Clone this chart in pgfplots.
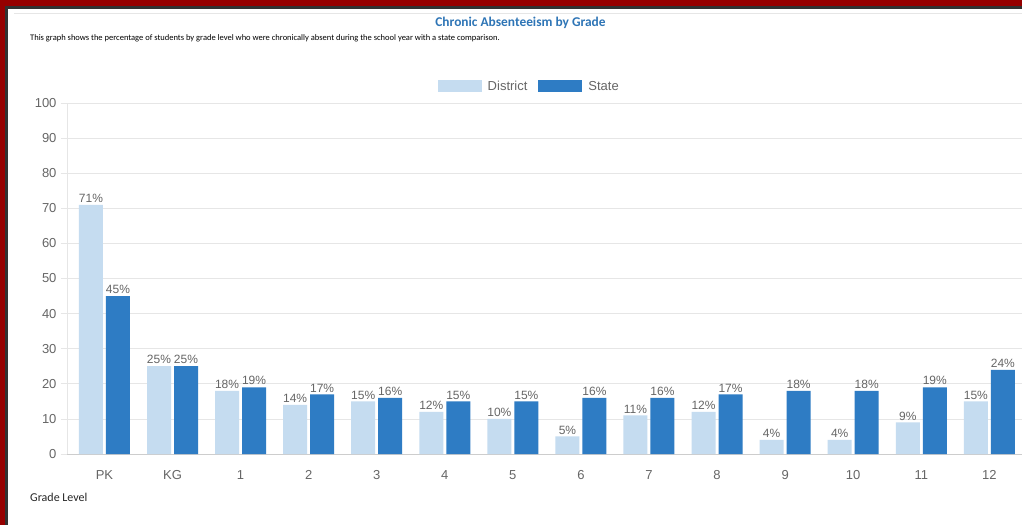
\documentclass[border=0pt]{standalone}
\usepackage{pgfplots}
\pgfplotsset{compat=1.18}
\usepackage{fontspec}
\setmainfont{Liberation Sans}
\newfontfamily\calibri{Carlito}
\definecolor{frame}{RGB}{150,0,0}
\definecolor{framedark}{RGB}{50,50,50}
\definecolor{districtc}{RGB}{197,220,240}
\definecolor{statec}{RGB}{46,124,196}
\definecolor{titleblue}{RGB}{46,117,182}
\definecolor{gridc}{RGB}{230,230,230}
\definecolor{axisc}{RGB}{205,205,205}
\definecolor{txt}{RGB}{102,102,102}
\begin{document}
\begin{tikzpicture}[x=1pt,y=1pt]
\useasboundingbox (0,0) rectangle (1022,525);
\fill[white] (0,0) rectangle (1022,525);
\fill[frame] (0,0) rectangle (5,525);
\fill[frame] (0,519) rectangle (1022,525);
\fill[framedark] (5,0) rectangle (8,519);
\fill[framedark] (5,516) rectangle (1022,519);
\draw[gridc, line width=1.5pt] (14,511.5) -- (1022,511.5);
\node[font=\calibri\bfseries\fontsize{13.4}{15}\selectfont, text=titleblue] at (520.5,502.5) {Chronic Absenteeism by Grade};
\node[anchor=west, inner sep=0pt, font=\calibri\fontsize{8.5}{10}\selectfont, text=black] at (30,486.5) {This graph shows the percentage of students by grade level who were chronically absent during the school year with a state comparison.};
\node[anchor=west, inner sep=0pt, font=\calibri\fontsize{12}{14}\selectfont, text=black!85] at (30,28) {Grade Level};
\begin{axis}[
  at={(67pt,71pt)}, anchor=south west,
  scale only axis, width=955pt, height=351pt,
  ymin=0, ymax=100, xmin=-0.55, xmax=13.48,
  ybar=3pt, bar width=24pt,
  ytick={0,10,...,100},
  xtick={0,...,13},
  xticklabels={PK,KG,1,2,3,4,5,6,7,8,9,10,11,12},
  ymajorgrids, grid style={gridc, line width=0.8pt},
  axis x line*=bottom, axis y line*=left,
  axis line style={axisc, line width=0.8pt, -},
  x axis line style={axisc},
  y axis line style={gridc},
  tick align=outside, major tick length=6pt,
  ytick style={gridc, line width=0.8pt},
  xtick style={draw=none},
  /pgf/number format/assume math mode=true,
  tick label style={font=\fontsize{13}{13}\selectfont, text=txt},
  yticklabel style={xshift=-1pt},
  xticklabel style={yshift=-7pt},
  nodes near coords={\pgfmathprintnumber{\pgfplotspointmeta}\%},
  every node near coord/.append style={font=\fontsize{12}{12}\selectfont, text=txt, inner sep=2pt},
  legend columns=2,
  legend style={at={(0.483,1.049)}, anchor=center, draw=none, fill=none,
    font=\fontsize{13}{13}\selectfont, text=txt,
    /tikz/every even column/.append style={column sep=11pt},
    nodes={inner sep=0pt, anchor=west}},
  legend image code/.code={\fill[#1,draw=none] (0pt,-5pt) rectangle (44pt,7pt); \path (50pt,0pt);},
]
\addplot[fill=districtc, draw=none] coordinates {(0,71) (1,25) (2,18) (3,14) (4,15) (5,12) (6,10) (7,5) (8,11) (9,12) (10,4) (11,4) (12,9) (13,15)};
\addplot[fill=statec, draw=none] coordinates {(0,45) (1,25) (2,19) (3,17) (4,16) (5,15) (6,15) (7,16) (8,16) (9,17) (10,18) (11,18) (12,19) (13,24)};
\legend{District,State}
\end{axis}
\end{tikzpicture}
\end{document}
